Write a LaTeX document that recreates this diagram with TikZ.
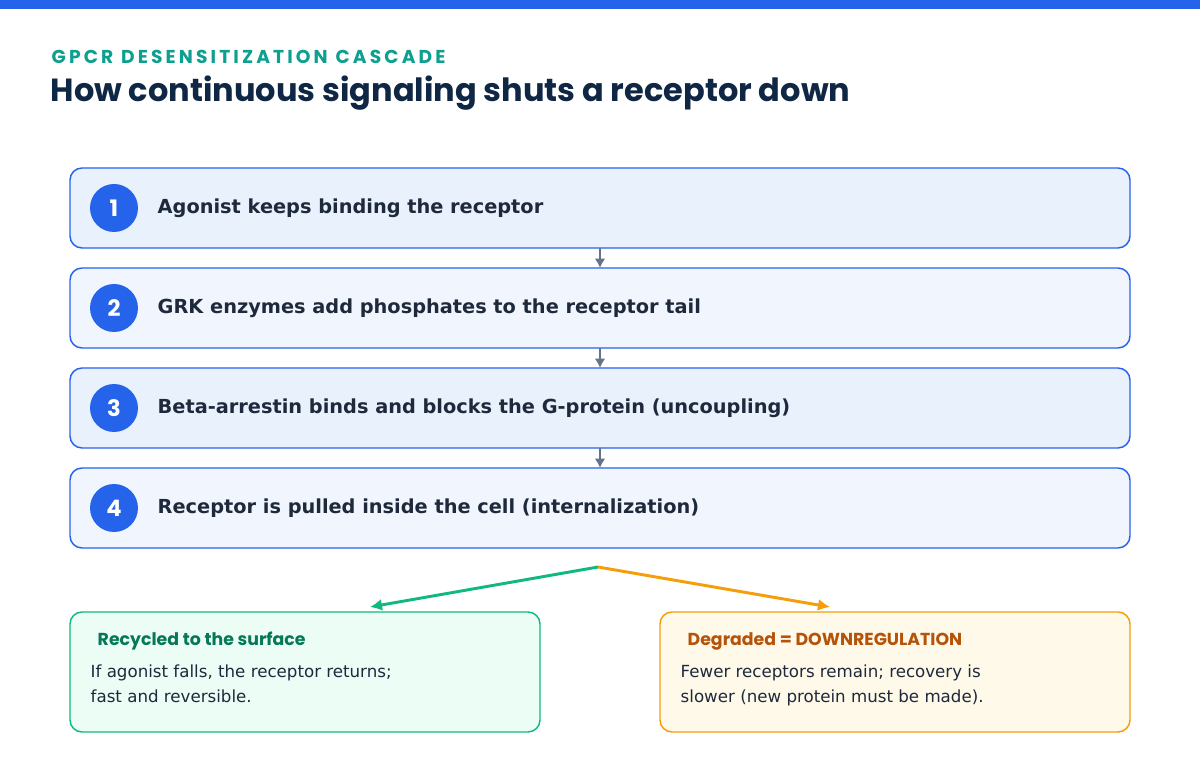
\documentclass[tikz,border=0pt]{standalone}
\usepackage{fontspec}
\usetikzlibrary{arrows.meta}
\setmainfont{DejaVu Sans}
\newfontfamily\pop{Poppins}
\definecolor{blue1}{HTML}{2563EB}
\definecolor{ink}{HTML}{1E293B}
\definecolor{gray1}{HTML}{64748B}
\definecolor{teal1}{HTML}{0D9F8F}
\definecolor{navy}{HTML}{0F2744}
\definecolor{fa}{HTML}{E9F1FD}
\definecolor{fb}{HTML}{F1F6FE}
\definecolor{gr}{HTML}{10B981}
\definecolor{grf}{HTML}{ECFDF5}
\definecolor{grt}{HTML}{047857}
\definecolor{orn}{HTML}{F59E0B}
\definecolor{ornf}{HTML}{FEF9E8}
\definecolor{ornt}{HTML}{B45309}
\begin{document}
\begin{tikzpicture}[x=0.75pt,y=-0.75pt,
 stepbox/.style={draw=blue1,line width=1.1pt,rounded corners=9pt},
 num/.style={circle,fill=blue1,minimum size=48*0.75pt,inner sep=0,text=white,font=\pop\bfseries\fontsize{17}{17}\selectfont},
 stxt/.style={anchor=west,font=\bfseries\fontsize{14.5}{17}\selectfont,text=ink},
 link/.style={draw=gray1,line width=1.5pt,-{Latex[length=7pt,width=8pt]}},
 btxt/.style={anchor=north west,align=left,font=\fontsize{12.5}{19}\selectfont,text=ink}]
\useasboundingbox (0,0) rectangle (1200,780);
\fill[white] (0,0) rectangle (1200,780);
\fill[blue1] (0,0) rectangle (1200,9);
\node[anchor=west,text=teal1,font=\pop\bfseries\fontsize{14}{14}\selectfont] (sub) at (47,57) {G\,P\,C\,R\ \ D\,E\,S\,E\,N\,S\,I\,T\,I\,Z\,A\,T\,I\,O\,N\ \ C\,A\,S\,C\,A\,D\,E};
\node[anchor=west,text=navy,font=\pop\bfseries\fontsize{24}{24}\selectfont] (title) at (46,93) {How continuous signaling shuts a receptor down};
\foreach \i/\y/\f/\t in {1/168/fa/Agonist keeps binding the receptor,2/268/fb/GRK enzymes add phosphates to the receptor tail,3/368/fa/Beta-arrestin binds and blocks the G-protein (uncoupling),4/468/fb/Receptor is pulled inside the cell (internalization)}{
 \draw[stepbox,fill=\f] (70,\y) rectangle (1130,\y+80);
 \coordinate (t\i) at (600,\y);
 \coordinate (b\i) at (600,\y+80);
 \node[num] (n\i) at (114,\y+40) {\i};
 \node[stxt] (s\i) at (153,\y+40) {\t};
}
\draw[link] (b1) -- (t2);
\draw[link] (b2) -- (t3);
\draw[link] (b3) -- (t4);
\coordinate (fork) at (598,567);
\coordinate (gl) at (370,607);
\coordinate (or) at (830,607);
\draw[gr,line width=2.2pt,-{Latex[length=9pt,width=9pt]}] (fork) -- (gl);
\draw[orn,line width=2.2pt,-{Latex[length=9pt,width=9pt]}] (fork) -- (or);
\draw[draw=gr,fill=grf,line width=1.1pt,rounded corners=9pt] (70,612) rectangle (540,732);
\draw[draw=orn,fill=ornf,line width=1.1pt,rounded corners=9pt] (660,612) rectangle (1130,732);
\node[anchor=west,text=grt,font=\pop\bfseries\fontsize{13}{13}\selectfont] (g1) at (93,641) {Recycled to the surface};
\node[btxt] (g2) at (86,660) {If agonist falls, the receptor returns;\\fast and reversible.};
\node[anchor=west,text=ornt,font=\pop\bfseries\fontsize{13}{13}\selectfont] (o1) at (683,641) {Degraded = DOWNREGULATION};
\node[btxt] (o2) at (676,660) {Fewer receptors remain; recovery is\\slower (new protein must be made).};
\end{tikzpicture}
\end{document}
